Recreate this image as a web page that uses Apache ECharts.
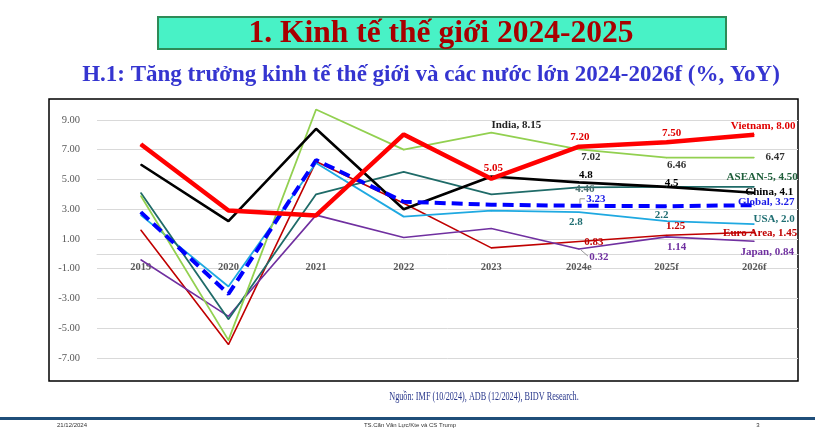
<!DOCTYPE html>
<html>
<head>
<meta charset="utf-8">
<script src="https://cdn.jsdelivr.net/npm/echarts@6/dist/echarts.min.js"></script>
<style>
html,body{margin:0;padding:0;background:#fff;}
#c{width:815px;height:440px;}
</style>
</head>
<body>
<div id="c"></div>
<script>
// ---- data ----
const categories = ['2019', '2020', '2021', '2022', '2023', '2024e', '2025f', '2026f'];
const vietnam  = [7.36, 2.91, 2.58, 8.02, 5.05, 7.20, 7.50, 8.00];
const india    = [3.9, -5.8, 9.7, 7.0, 8.15, 7.02, 6.46, 6.47];
const china    = [6.0, 2.2, 8.4, 3.0, 5.2, 4.8, 4.5, 4.1];
const asean5   = [4.1, -4.4, 4.0, 5.5, 4.0, 4.46, 4.5, 4.50];
const globalW  = [2.8, -2.7, 6.3, 3.5, 3.3, 3.23, 3.2, 3.27];
const usa      = [2.6, -2.2, 6.1, 2.5, 2.9, 2.8, 2.2, 2.0];
const euroArea = [1.6, -6.1, 6.2, 3.4, 0.4, 0.83, 1.25, 1.45];
const japan    = [-0.4, -4.2, 2.6, 1.1, 1.7, 0.32, 1.14, 0.84];
const seriesNames = ['Euro Area', 'Japan', 'USA', 'ASEAN-5', 'India', 'China', 'Global', 'Vietnam'];
const yTickMin = -7, yTickMax = 10, yTickStep = 2;

// ---- styling / label placement ----
const FONT = 'Liberation Serif';
const GRID = {left: 97, right: 17, top: 105, bottom: 82};
const styles = {
  'Euro Area': {data: euroArea, color: '#C00000', width: 1.6, label: '#C00000',
     labels: [[5, false, 2, 15, 1], [6, false, 2, 9, -9], [7, true, 2, 6, 1]]},
  'Japan': {data: japan, color: '#7030A0', width: 1.6, label: '#7030A0',
     labels: [[5, false, 2, 20, 8], [6, false, 2, 10, 10], [7, true, 2, 13, 11]]},
  'USA': {data: usa, color: '#1FA9E1', width: 1.8, label: '#1F6E72',
     labels: [[5, false, 1, -3, 10], [6, false, 1, -5, -6], [7, true, 1, 20, -5]]},
  'ASEAN-5': {data: asean5, color: '#1F6B68', width: 1.8, label: '#1E5E3A',
     labels: [[5, false, 2, 6, 2, '#4A6E6C'], [7, true, 2, 8, -10]]},
  'India': {data: india, color: '#92D050', width: 1.8, label: '#333333',
     labels: [[4, true, 2, 25, -7, '#222222'], [5, false, 2, 12, 8], [6, false, 2, 10, 7], [7, false, 2, 21, 0]]},
  'China': {data: china, color: '#000000', width: 2.6, label: '#000000',
     labels: [[5, false, 1, 7, -7], [6, false, 1, 5, -4], [7, true, 1, 15, -1]]},
  'Global': {data: globalW, color: '#0000FF', width: 4, dash: [11, 6], label: '#1A1AE6',
     labels: [[5, false, 2, 17, -7], [7, true, 2, 12, -3]]},
  'Vietnam': {data: vietnam, color: '#FF0000', width: 4.5, label: '#E00000',
     labels: [[4, false, 2, 2, -11], [5, false, 2, 1, -10], [6, false, 2, 5, -9], [7, true, 2, 9, -9]]}
};

function buildSeries(name) {
  const s = styles[name];
  const findSpec = function (i) { return s.labels.find(function (l) { return l[0] === i; }); };
  const data = s.data.map(function (v, i) {
    const spec = findSpec(i);
    if (!spec) return {value: v, label: {show: false}};
    const txt = (spec[1] ? name + ', ' : '') + v.toFixed(spec[2]);
    return {
      value: v,
      label: {
        show: true, position: 'inside',
        align: 'center', verticalAlign: 'middle',
        formatter: txt, color: spec[5] || s.label,
        fontFamily: FONT, fontWeight: 'bold', fontSize: 11
      }
    };
  });
  return {
    name: name, type: 'line', data: data,
    symbol: 'circle', symbolSize: 1, showSymbol: true,
    itemStyle: {color: s.color},
    lineStyle: {color: s.color, width: s.width, type: s.dash || 'solid'},
    emphasis: {disabled: true},
    labelLayout: function (params) {
      const spec = findSpec(params.dataIndex);
      if (!spec) return {};
      return {dx: spec[3], dy: spec[4], hideOverlap: false};
    },
    z: 2
  };
}

const chart = echarts.init(document.getElementById('c'), null, {renderer: 'canvas'});
const gridHeight = 440 - GRID.top - GRID.bottom;
const zeroOffset = -(0 - yTickMin) / (yTickMax - yTickMin) * gridHeight;
chart.setOption({
  backgroundColor: '#ffffff',
  animation: false,
  grid: {left: GRID.left, right: GRID.right, top: GRID.top, bottom: GRID.bottom, containLabel: false},
  xAxis: {
    type: 'category', data: categories, boundaryGap: true,
    offset: zeroOffset,
    axisLine: {show: true, onZero: false, lineStyle: {color: '#D9D9D9', width: 1}},
    axisTick: {show: false},
    axisLabel: {color: '#595959', fontFamily: FONT, fontWeight: 'bold', fontSize: 10.5, margin: 8}
  },
  yAxis: {
    type: 'value', min: yTickMin, max: yTickMax, interval: yTickStep,
    axisLine: {show: false}, axisTick: {show: false},
    splitLine: {show: true, showMaxLine: false, lineStyle: {color: '#D9D9D9', width: 1}},
    axisLabel: {
      color: '#595959', fontFamily: FONT, fontSize: 10.5, margin: 17,
      formatter: function (v) { return (Math.abs(v % 2) === 1) ? v.toFixed(2) : ''; }
    }
  },
  series: seriesNames.map(buildSeries),
  graphic: [
    {id: 'titleBox', type: 'rect', shape: {x: 158, y: 17, width: 568, height: 32},
     style: {fill: '#48F2C6', stroke: '#2E8B57', lineWidth: 2}, z: 1},
    {id: 'title', type: 'text', x: 441, y: 34, style: {text: '1. Kinh tế thế giới 2024-2025', fill: '#A80000',
     font: 'bold 31.5px "Liberation Serif"', align: 'center', verticalAlign: 'middle'}, z: 2},
    {id: 'subtitle', type: 'text', x: 431, y: 75, style: {text: 'H.1: Tăng trưởng kinh tế thế giới và các nước lớn 2024-2026f (%, YoY)',
     fill: '#3535D0', font: 'bold 23px "Liberation Serif"', align: 'center', verticalAlign: 'middle'}, z: 2},
    {id: 'frame', type: 'rect', shape: {x: 49, y: 99, width: 749, height: 282},
     style: {fill: 'none', stroke: '#000000', lineWidth: 1.5}, z: 0, silent: true},
    {id: 'source', type: 'text', x: 484, y: 397, scaleX: 0.63, originX: 0, originY: 0,
     style: {text: 'Nguồn: IMF (10/2024), ADB (12/2024), BIDV Research.', fill: '#26358A',
     font: '13px "Liberation Serif"', align: 'center', verticalAlign: 'middle'}},
    {id: 'footLine', type: 'rect', shape: {x: 0, y: 417, width: 815, height: 3}, style: {fill: '#1F4E79'}},
    {id: 'footDate', type: 'text', x: 57, y: 425, style: {text: '21/12/2024', fill: '#333333',
     font: '6px "Liberation Sans"', align: 'left', verticalAlign: 'middle'}},
    {id: 'footMid', type: 'text', x: 410, y: 425, style: {text: 'TS.Cấn Văn Lực/Kte và CS Trump', fill: '#333333',
     font: '6px "Liberation Sans"', align: 'center', verticalAlign: 'middle'}},
    {id: 'footPage', type: 'text', x: 758, y: 425, style: {text: '3', fill: '#333333',
     font: '6px "Liberation Sans"', align: 'center', verticalAlign: 'middle'}}
  ]
});

// leader lines for the two crowded 2024e labels, anchored through the chart's scales
const pG = chart.convertToPixel({gridIndex: 0}, ['2024e', globalW[5]]);
const pJ = chart.convertToPixel({gridIndex: 0}, ['2024e', japan[5]]);
chart.setOption({
  graphic: [
    {id: 'leadGlobal', type: 'polyline', shape: {points: [[pG[0] + 1, pG[1] - 2], [pG[0] + 1, pG[1] - 7], [pG[0] + 6, pG[1] - 7]]},
     style: {stroke: '#7F7F7F', lineWidth: 0.8, fill: 'none'}, z: 3},
    {id: 'leadJapan', type: 'polyline', shape: {points: [[pJ[0] + 2, pJ[1] + 1], [pJ[0] + 9, pJ[1] + 7]]},
     style: {stroke: '#7F7F7F', lineWidth: 0.8, fill: 'none'}, z: 3}
  ]
});
</script>
</body>
</html>
